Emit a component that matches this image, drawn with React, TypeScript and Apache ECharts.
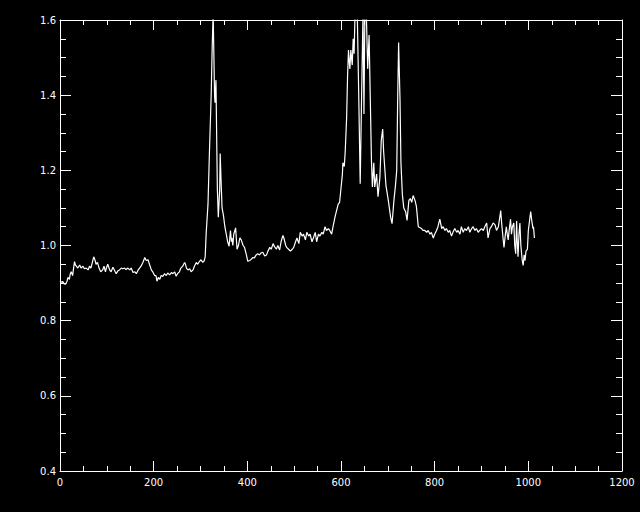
import React, { useEffect, useRef } from "react";
import * as echarts from "echarts";

// Continuum before the first emission line (x, flux)
const segmentA: [number, number][] = [
  [0, 0.905], [3, 0.902], [6, 0.904], [9, 0.898], [12, 0.897], [15, 0.905], [17, 0.915], [20, 0.91],
  [22, 0.925], [24, 0.93], [27, 0.92], [29, 0.94], [31, 0.957], [33, 0.948], [35, 0.945], [38, 0.94],
  [42, 0.948], [45, 0.94], [49, 0.945], [52, 0.938], [56, 0.94], [60, 0.935], [63, 0.945], [66, 0.94],
  [70, 0.96], [72, 0.97], [75, 0.96], [77, 0.95], [80, 0.955], [84, 0.938], [87, 0.93], [91, 0.935],
  [94, 0.945], [97, 0.93], [99, 0.94], [102, 0.95], [106, 0.935], [109, 0.93], [113, 0.942], [116, 0.935],
  [120, 0.925], [124, 0.933], [127, 0.935], [131, 0.94], [134, 0.938], [138, 0.94], [141, 0.936], [145, 0.94],
  [149, 0.935], [152, 0.94], [156, 0.928], [160, 0.93], [163, 0.925], [167, 0.935], [170, 0.94], [173, 0.945],
  [177, 0.955], [181, 0.968], [184, 0.96], [188, 0.962], [191, 0.95], [195, 0.935], [198, 0.93], [202, 0.92],
  [205, 0.92], [207, 0.905], [210, 0.915], [213, 0.91], [216, 0.92], [220, 0.918], [223, 0.925], [227, 0.92],
  [230, 0.927], [234, 0.922], [238, 0.928], [241, 0.925], [245, 0.93], [248, 0.918], [251, 0.925], [255, 0.93],
  [258, 0.94], [262, 0.945], [266, 0.955], [268, 0.95], [270, 0.94], [273, 0.935], [277, 0.938], [280, 0.93],
  [284, 0.935], [287, 0.945], [291, 0.955], [294, 0.95], [298, 0.958], [301, 0.962], [305, 0.955], [308, 0.96],
];

// First emission line and the continuum after it
const segmentB: [number, number][] = [
  [310, 0.97], [312, 1.03], [316, 1.11], [319, 1.245], [323, 1.41], [325, 1.53], [327, 1.62], [328, 1.62],
  [330, 1.4], [331, 1.38], [333, 1.44], [335, 1.245], [336, 1.15], [338, 1.075], [341, 1.15], [342, 1.245],
  [344, 1.17], [346, 1.1], [349, 1.08], [352, 1.05], [355, 1.03], [358, 1.01], [361, 0.998], [364, 1.04],
  [366, 1.01], [367, 1.02], [369, 1.0], [371, 1.03], [375, 1.047], [378, 0.99], [381, 1.0], [384, 1.02],
  [387, 1.015], [391, 1.0], [394, 0.995], [398, 0.975], [401, 0.958], [405, 0.96], [408, 0.963], [412, 0.968],
  [415, 0.967], [419, 0.975], [422, 0.978], [426, 0.975], [429, 0.98], [433, 0.982], [437, 0.972], [441, 0.975],
  [444, 0.985], [448, 0.995], [451, 0.99], [455, 1.005], [458, 0.997], [462, 0.99], [465, 1.0], [469, 0.988],
  [472, 1.01], [476, 1.027], [478, 1.02], [482, 1.0], [484, 0.995], [488, 0.99], [492, 0.985], [496, 0.99],
  [499, 0.995], [503, 1.01], [506, 1.02], [510, 1.005], [513, 1.035], [517, 1.025], [520, 1.03], [524, 1.015],
  [527, 1.035], [531, 1.025], [534, 1.03], [538, 1.01], [541, 1.02], [545, 1.035], [548, 1.01], [552, 1.03],
  [555, 1.025], [559, 1.035], [562, 1.03], [566, 1.05], [569, 1.04], [573, 1.045], [576, 1.04], [580, 1.03],
];

// Broad emission complex
const segmentC: [number, number][] = [
  [583, 1.05], [587, 1.075], [590, 1.09], [594, 1.11], [597, 1.115], [601, 1.165], [603, 1.19], [604, 1.22],
  [607, 1.21], [609, 1.25], [612, 1.34], [614, 1.45], [616, 1.52], [617, 1.5], [619, 1.47], [621, 1.52],
  [624, 1.48], [626, 1.55], [628, 1.51], [630, 1.62], [633, 1.62], [635, 1.6], [638, 1.39], [641, 1.164],
  [644, 1.4], [647, 1.62], [649, 1.35], [651, 1.62], [654, 1.62], [657, 1.47], [660, 1.56], [663, 1.36],
  [665, 1.227], [667, 1.156], [670, 1.22], [672, 1.156], [676, 1.19], [679, 1.13], [683, 1.18], [686, 1.28],
  [689, 1.31], [691, 1.25], [696, 1.16], [701, 1.12], [706, 1.075], [709, 1.058], [713, 1.12], [716, 1.156],
  [719, 1.2], [721, 1.387], [723, 1.54], [726, 1.387], [728, 1.22], [731, 1.136], [734, 1.1], [738, 1.09],
  [741, 1.067], [745, 1.12], [748, 1.125], [751, 1.115], [754, 1.133], [758, 1.12], [761, 1.104], [765, 1.05],
];

// Red continuum and noisy tail
const segmentD: [number, number][] = [
  [768, 1.048], [772, 1.045], [775, 1.04], [779, 1.04], [783, 1.035], [786, 1.04], [790, 1.03], [793, 1.035],
  [797, 1.02], [800, 1.03], [804, 1.04], [807, 1.05], [811, 1.07], [815, 1.045], [818, 1.05], [822, 1.04],
  [825, 1.045], [829, 1.035], [832, 1.04], [836, 1.025], [839, 1.035], [843, 1.045], [847, 1.035], [850, 1.04],
  [854, 1.03], [857, 1.05], [861, 1.035], [864, 1.045], [868, 1.04], [872, 1.05], [875, 1.035], [879, 1.045],
  [882, 1.05], [886, 1.04], [889, 1.045], [893, 1.035], [896, 1.04], [900, 1.045], [904, 1.04], [907, 1.05],
  [911, 1.06], [914, 1.02], [918, 1.045], [921, 1.05], [925, 1.06], [929, 1.055], [932, 1.04], [936, 1.05],
  [939, 1.075], [941, 1.093], [943, 1.06], [946, 1.02], [948, 0.995], [951, 1.03], [953, 1.05], [955, 1.03],
  [957, 1.015], [959, 1.04], [962, 1.07], [964, 1.03], [966, 1.05], [969, 1.06], [971, 1.0], [973, 0.978],
  [975, 1.065], [976, 1.02], [978, 0.97], [980, 1.03], [982, 1.06], [984, 1.0], [987, 0.96], [989, 0.947],
  [991, 0.975], [993, 0.96], [995, 0.985], [998, 0.99], [1000, 1.04], [1002, 1.06], [1004, 1.08], [1005, 1.09],
  [1008, 1.06], [1010, 1.045], [1011, 1.05], [1013, 1.02],
];

const xRange = [0, 1200];
const yRange = [0.4, 1.6];

export default function App() {
  const ref = useRef<HTMLDivElement>(null);

  useEffect(() => {
    if (!ref.current) return;
    const chart = echarts.init(ref.current, null, { renderer: "svg" });
    const white = "#ffffff";
    const font = { color: white, fontFamily: "DejaVu Sans", fontSize: 10 };
    const lineStyle = { color: white, width: 1 };
    const data = [...segmentA, ...segmentB, ...segmentC, ...segmentD];

    const xCommon = {
      type: "value" as const,
      min: xRange[0],
      max: xRange[1],
      interval: 200,
      axisLine: { show: true, onZero: false, lineStyle },
      axisTick: { show: true, inside: true, length: 10, lineStyle },
      minorTick: { show: true, splitNumber: 4, length: 5, lineStyle },
      splitLine: { show: false },
      minorSplitLine: { show: false },
    };
    const yCommon = {
      type: "value" as const,
      min: yRange[0],
      max: yRange[1],
      interval: 0.2,
      axisLine: { show: true, onZero: false, lineStyle },
      axisTick: { show: true, inside: true, length: 11, lineStyle },
      minorTick: { show: true, splitNumber: 4, length: 6, lineStyle },
      splitLine: { show: false },
      minorSplitLine: { show: false },
    };

    chart.setOption({
      animation: false,
      backgroundColor: "#000000",
      grid: { left: 60, right: 18, top: 20, bottom: 41, containLabel: false },
      xAxis: [
        {
          ...xCommon,
          position: "bottom",
          axisLabel: { ...font, margin: 6, formatter: (v: number) => String(v) },
        },
        { ...xCommon, position: "top", axisLabel: { show: false } },
      ],
      yAxis: [
        {
          ...yCommon,
          position: "left",
          axisLabel: { ...font, margin: 4, formatter: (v: number) => v.toFixed(1) },
        },
        { ...yCommon, position: "right", axisLabel: { show: false } },
      ],
      series: [
        {
          type: "line",
          xAxisIndex: 0,
          yAxisIndex: 0,
          data,
          showSymbol: false,
          symbol: "none",
          clip: true,
          lineStyle: { color: white, width: 1.2 },
        },
      ],
    });

    return () => chart.dispose();
  }, []);

  return (
    <div
      ref={ref}
      style={{ position: "fixed", left: 0, top: 0, width: 640, height: 512, background: "#000" }}
    />
  );
}
